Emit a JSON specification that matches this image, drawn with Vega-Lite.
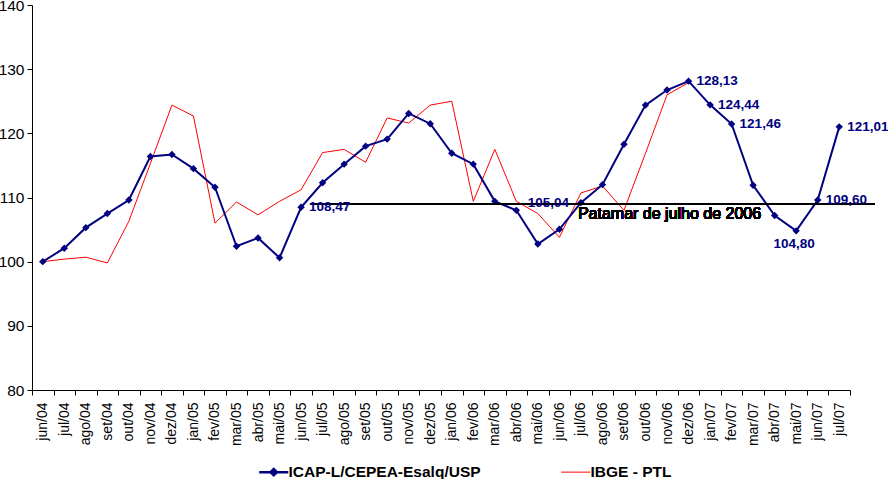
{
  "$schema": "https://vega.github.io/schema/vega-lite/v6.json",
  "width": 818,
  "height": 385,
  "autosize": {"type": "none"},
  "padding": {"left": 32, "top": 5, "right": 38, "bottom": 89},
  "background": "white",
  "config": {
    "view": {"stroke": null},
    "font": "Liberation Sans",
    "locale": {"number": {"decimal": ",", "thousands": ".", "grouping": [3], "currency": ["R$", ""]}}
  },
  "data": {
    "values": [
      {"mes": "jun/04", "icap": 100.0, "ibge": 100.0},
      {"mes": "jul/04", "icap": 102.1, "ibge": 100.4},
      {"mes": "ago/04", "icap": 105.3, "ibge": 100.7},
      {"mes": "set/04", "icap": 107.5, "ibge": 99.8},
      {"mes": "out/04", "icap": 109.6, "ibge": 106.3},
      {"mes": "nov/04", "icap": 116.4, "ibge": 115.3},
      {"mes": "dez/04", "icap": 116.7, "ibge": 124.4},
      {"mes": "jan/05", "icap": 114.5, "ibge": 122.7},
      {"mes": "fev/05", "icap": 111.6, "ibge": 106.0},
      {"mes": "mar/05", "icap": 102.4, "ibge": 109.3},
      {"mes": "abr/05", "icap": 103.7, "ibge": 107.3},
      {"mes": "mai/05", "icap": 100.6, "ibge": 109.4},
      {"mes": "jun/05", "icap": 108.47, "ibge": 111.2},
      {"mes": "jul/05", "icap": 112.3, "ibge": 117.0},
      {"mes": "ago/05", "icap": 115.2, "ibge": 117.5},
      {"mes": "set/05", "icap": 118.0, "ibge": 115.5},
      {"mes": "out/05", "icap": 119.1, "ibge": 122.4},
      {"mes": "nov/05", "icap": 123.1, "ibge": 121.6},
      {"mes": "dez/05", "icap": 121.5, "ibge": 124.4},
      {"mes": "jan/06", "icap": 116.9, "ibge": 125.0},
      {"mes": "fev/06", "icap": 115.2, "ibge": 109.4},
      {"mes": "mar/06", "icap": 109.4, "ibge": 117.5},
      {"mes": "abr/06", "icap": 108.0, "ibge": 109.4},
      {"mes": "mai/06", "icap": 102.75, "ibge": 107.5},
      {"mes": "jun/06", "icap": 105.04, "ibge": 103.8},
      {"mes": "jul/06", "icap": 109.2, "ibge": 110.7},
      {"mes": "ago/06", "icap": 112.0, "ibge": 111.8},
      {"mes": "set/06", "icap": 118.3, "ibge": 108.0},
      {"mes": "out/06", "icap": 124.4, "ibge": 116.9},
      {"mes": "nov/06", "icap": 126.75, "ibge": 126.0},
      {"mes": "dez/06", "icap": 128.13, "ibge": 127.9},
      {"mes": "jan/07", "icap": 124.44, "ibge": null},
      {"mes": "fev/07", "icap": 121.46, "ibge": null},
      {"mes": "mar/07", "icap": 111.9, "ibge": null},
      {"mes": "abr/07", "icap": 107.2, "ibge": null},
      {"mes": "mai/07", "icap": 104.8, "ibge": null},
      {"mes": "jun/07", "icap": 109.6, "ibge": null},
      {"mes": "jul/07", "icap": 121.01, "ibge": null}
    ]
  },
  "encoding": {
    "x": {
      "field": "mes",
      "type": "ordinal",
      "sort": null,
      "scale": {
        "type": "band",
        "paddingInner": 0,
        "paddingOuter": 0,
        "domain": ["jun/04","jul/04","ago/04","set/04","out/04","nov/04","dez/04","jan/05","fev/05","mar/05","abr/05","mai/05","jun/05","jul/05","ago/05","set/05","out/05","nov/05","dez/05","jan/06","fev/06","mar/06","abr/06","mai/06","jun/06","jul/06","ago/06","set/06","out/06","nov/06","dez/06","jan/07","fev/07","mar/07","abr/07","mai/07","jun/07","jul/07"]
      },
      "axis": {
        "title": null,
        "tickBand": "extent",
        "labelAngle": 270,
        "labelFontSize": 14,
        "labelColor": "black",
        "labelPadding": 7,
        "tickSize": 5,
        "tickColor": "black",
        "domainColor": "black",
        "labelFont": "Liberation Sans"
      }
    }
  },
  "layer": [
    {
      "mark": {"type": "line", "strokeWidth": 1},
      "encoding": {
        "y": {
          "field": "ibge",
          "type": "quantitative",
          "scale": {"domain": [80, 140], "nice": false, "zero": false},
          "axis": {
            "title": null,
            "values": [80, 90, 100, 110, 120, 130, 140],
            "grid": false,
            "labelFontSize": 15.5,
            "labelColor": "black",
            "labelPadding": 3,
            "tickSize": 5,
            "tickColor": "black",
            "domainColor": "black",
            "labelFont": "Liberation Sans"
          }
        },
        "color": {
          "datum": "IBGE - PTL",
          "scale": {
            "domain": ["ICAP-L/CEPEA-Esalq/USP", "IBGE - PTL"],
            "range": ["#000080", "#FF0000"]
          },
          "legend": {
            "title": null,
            "orient": "none",
            "legendX": 234,
            "legendY": 459,
            "direction": "horizontal",
            "labelFont": "Liberation Sans",
            "labelFontSize": 15.5,
            "labelFontWeight": "bold",
            "labelColor": "black",
            "labelLimit": 400,
            "labelOffset": 7,
            "columnPadding": 78,
            "symbolSize": 841,
            "symbolType": "stroke",
            "encode": {
              "symbols": {
                "update": {
                  "shape": {"signal": "datum.value == 'ICAP-L/CEPEA-Esalq/USP' ? 'M-1,0H1M-0.22,0L0,-0.22L0.22,0L0,0.22Z' : 'stroke'"},
                  "strokeWidth": {"signal": "datum.value == 'ICAP-L/CEPEA-Esalq/USP' ? 2.5 : 1"},
                  "fill": {"signal": "datum.value == 'ICAP-L/CEPEA-Esalq/USP' ? '#000080' : 'transparent'"}
                }
              }
            }
          }
        }
      }
    },
    {
      "mark": {"type": "line", "strokeWidth": 2},
      "encoding": {
        "y": {"field": "icap", "type": "quantitative"},
        "color": {"datum": "ICAP-L/CEPEA-Esalq/USP"}
      }
    },
    {
      "mark": {"type": "point", "shape": "diamond", "filled": true, "size": 55, "color": "#000080", "opacity": 1},
      "encoding": {
        "y": {"field": "icap", "type": "quantitative"}
      }
    },
    {
      "mark": {"type": "rule", "color": "black", "strokeWidth": 1, "xOffset": 9, "x2Offset": 35},
      "encoding": {
        "x": {"datum": "jun/05", "type": "ordinal"},
        "x2": {"datum": "jul/07"},
        "y": {"datum": 109, "type": "quantitative"}
      }
    },
    {
      "mark": {"type": "text", "align": "left", "baseline": "alphabetic", "dx": -3, "dy": 15, "fontSize": 16, "font": "Liberation Sans", "color": "black"},
      "encoding": {
        "x": {"datum": "jul/06", "type": "ordinal"},
        "y": {"datum": 109, "type": "quantitative"},
        "text": {"value": "Patamar de julho de 2006"}
      }
    },
    {
      "transform": [{"filter": {"field": "mes", "oneOf": ["jun/05", "dez/06", "jan/07", "fev/07", "jun/07", "jul/07"]}}],
      "mark": {"type": "text", "align": "left", "baseline": "middle", "dx": 8, "fontSize": 13.5, "fontWeight": "bold", "font": "Liberation Sans", "color": "#000080"},
      "encoding": {
        "y": {"field": "icap", "type": "quantitative"},
        "text": {"field": "icap", "type": "quantitative", "format": ".2f"}
      }
    },
    {
      "transform": [{"filter": {"field": "mes", "equal": "jun/06"}}],
      "mark": {"type": "text", "align": "center", "baseline": "middle", "dx": -11, "dy": -26, "fontSize": 13.5, "fontWeight": "bold", "font": "Liberation Sans", "color": "#000080"},
      "encoding": {
        "y": {"field": "icap", "type": "quantitative"},
        "text": {"field": "icap", "type": "quantitative", "format": ".2f"}
      }
    },
    {
      "transform": [{"filter": {"field": "mes", "equal": "mai/07"}}],
      "mark": {"type": "text", "align": "center", "baseline": "middle", "dx": -2, "dy": 13, "fontSize": 13.5, "fontWeight": "bold", "font": "Liberation Sans", "color": "#000080"},
      "encoding": {
        "y": {"field": "icap", "type": "quantitative"},
        "text": {"field": "icap", "type": "quantitative", "format": ".2f"}
      }
    }
  ]
}
